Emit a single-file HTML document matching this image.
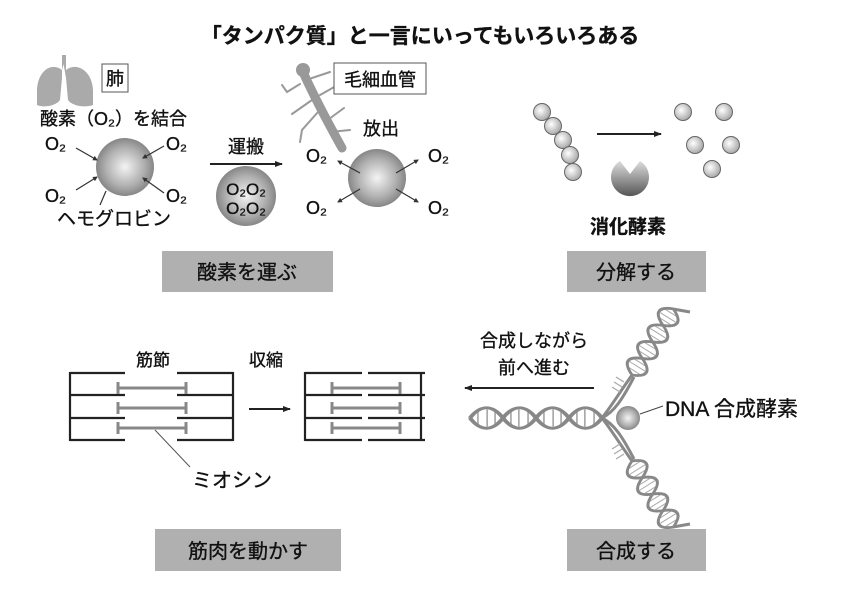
<!DOCTYPE html>
<html><head><meta charset="utf-8"><style>
html,body{margin:0;padding:0;background:#fff}
svg{display:block}
text{font-family:"Liberation Sans","Noto Sans CJK JP",sans-serif;fill:#111;stroke:#111;stroke-width:0.35}
</style></head><body>
<svg width="841" height="599" viewBox="0 0 841 599" xmlns="http://www.w3.org/2000/svg">
<defs>
<radialGradient id="sg" cx="0.5" cy="0.5" r="0.55"><stop offset="0" stop-color="#f4f4f4"/><stop offset="0.6" stop-color="#b0b0b0"/><stop offset="1" stop-color="#7a7a7a"/></radialGradient>
<radialGradient id="bg" cx="0.4" cy="0.4" r="0.6"><stop offset="0" stop-color="#fff"/><stop offset="1" stop-color="#aaa"/></radialGradient>
<linearGradient id="pg" x1="0" y1="0" x2="0" y2="1"><stop offset="0" stop-color="#ddd"/><stop offset="1" stop-color="#555"/></linearGradient>
<marker id="ah" markerWidth="8" markerHeight="8" refX="7" refY="4" orient="auto" markerUnits="userSpaceOnUse"><path d="M0,1 L8,4 L0,7z" fill="#222"/></marker>
<marker id="as" markerWidth="5" markerHeight="5" refX="4" refY="2.5" orient="auto" markerUnits="userSpaceOnUse"><path d="M0,0 L5,2.5 L0,5z" fill="#333"/></marker>
<g id="hx">
<g stroke="#aaa" stroke-width="1.3"><path d="M6,-7V7M13,-10V10M19,-7V7M31,-7V7M37,-10V10M44,-7V7M56,-7V7M63,-10V10M69,-7V7M81,-7V7M87,-10V10M94,-7V7"/></g>
<g fill="none" stroke="#888" stroke-width="3.5">
<path d="M0,0 C8,-16 17,-16 25,0 S42,16 50,0 S67,-16 75,0 S92,16 100,0"/>
<path d="M0,0 C8,16 17,16 25,0 S42,-16 50,0 S67,16 75,0 S92,-16 100,0"/>
</g></g>
</defs>
<text x="420" y="43" font-size="21" font-weight="bold" text-anchor="middle">「タンパク質」と一言にいってもいろいろある</text>

<path d="M62,55 L66,55 L66,70 C76,62 92,70 93,90 L93,105 C85,108 72,106 68,100 L66,78 Z" fill="#aaa"/>
<path d="M66,55 L62,55 L62,78 L60,100 C56,106 43,108 37,105 L37,90 C38,70 52,62 62,70 Z" fill="#aaa"/>
<rect x="102" y="64" width="26" height="28" fill="#fff" stroke="#555"/>
<text x="115" y="85" font-size="18" text-anchor="middle">肺</text>
<text x="40" y="125" font-size="18">酸素（O₂）を結合</text>
<circle cx="125" cy="167" r="29" fill="url(#sg)"/>
<g font-size="18"><text x="45" y="150">O₂</text><text x="166" y="150">O₂</text><text x="45" y="202">O₂</text><text x="166" y="202">O₂</text></g>
<g stroke="#333" stroke-width="1.2">
<line x1="76" y1="148" x2="97" y2="160" marker-end="url(#as)"/><line x1="164" y1="146" x2="143" y2="158" marker-end="url(#as)"/>
<line x1="76" y1="190" x2="97" y2="177" marker-end="url(#as)"/><line x1="164" y1="193" x2="143" y2="178" marker-end="url(#as)"/>
<line x1="106" y1="191" x2="100" y2="205"/></g>
<text x="57" y="225" font-size="19">ヘモグロビン</text>

<text x="246" y="153" font-size="18" text-anchor="middle">運搬</text>
<line x1="210" y1="164" x2="282" y2="164" stroke="#222" stroke-width="2" marker-end="url(#ah)"/>
<circle cx="246" cy="196" r="30" fill="url(#sg)"/>
<text x="246" y="195" font-size="17" text-anchor="middle">O₂O₂</text>
<text x="246" y="214" font-size="17" text-anchor="middle">O₂O₂</text>

<g stroke="#999" fill="none" stroke-linecap="round">
<path d="M303,72 C312,92 322,112 342,148" stroke-width="9"/>
<path d="M300,84 L287,92 L282,85 M312,100 L292,114 M318,112 L302,130 L300,142 M325,122 L344,108 M330,132 L350,130 M320,95 L336,86 M306,80 L330,72" stroke-width="2"/>
</g>
<circle cx="303" cy="70" r="7" fill="#999"/>
<rect x="334" y="63" width="92" height="31" fill="#fff" stroke="#555"/>
<text x="380" y="86" font-size="18" text-anchor="middle">毛細血管</text>
<text x="381" y="135" font-size="18" text-anchor="middle">放出</text>
<circle cx="377" cy="178" r="29" fill="url(#sg)"/>
<g font-size="18"><text x="306" y="162">O₂</text><text x="428" y="162">O₂</text><text x="306" y="214">O₂</text><text x="428" y="214">O₂</text></g>
<g stroke="#333" stroke-width="1.2">
<line x1="360" y1="173" x2="338" y2="161" marker-end="url(#as)"/><line x1="396" y1="173" x2="418" y2="160" marker-end="url(#as)"/>
<line x1="360" y1="189" x2="338" y2="202" marker-end="url(#as)"/><line x1="396" y1="189" x2="418" y2="202" marker-end="url(#as)"/></g>

<rect x="162" y="251" width="171" height="41" fill="#b0b0b0"/>
<text x="247" y="279" font-size="20" text-anchor="middle">酸素を運ぶ</text>

<g fill="url(#bg)" stroke="#666" stroke-width="1">
<circle cx="542" cy="112" r="8.5"/><circle cx="553" cy="126" r="8.5"/><circle cx="563" cy="140" r="8.5"/><circle cx="570" cy="155" r="8.5"/><circle cx="573" cy="172" r="8.5"/>
<circle cx="683" cy="112" r="8.5"/><circle cx="724" cy="112" r="8.5"/><circle cx="695" cy="145" r="8.5"/><circle cx="731" cy="145" r="8.5"/><circle cx="712" cy="169" r="8.5"/>
</g>
<line x1="597" y1="134" x2="661" y2="134" stroke="#222" stroke-width="2" marker-end="url(#ah)"/>
<path d="M620,161 L630,174 L640,161 A19,19 0 1 1 620,161 Z" fill="url(#pg)"/>
<text x="628" y="233" font-size="19" font-weight="bold" text-anchor="middle">消化酵素</text>
<rect x="567" y="251" width="139" height="41" fill="#b0b0b0"/>
<text x="636" y="279" font-size="20" text-anchor="middle">分解する</text>

<text x="153" y="366" font-size="17" text-anchor="middle">筋節</text>
<text x="266" y="366" font-size="17" text-anchor="middle">収縮</text>
<g stroke="#222" stroke-width="2.2">
<line x1="70" y1="372" x2="70" y2="441"/><line x1="233" y1="372" x2="233" y2="441"/>
<path d="M70,373H125M70,395H125M70,418H125M70,440H125M177,373H233M177,395H233M177,418H233M177,440H233"/>
<line x1="305" y1="372" x2="305" y2="441"/><line x1="421" y1="372" x2="421" y2="441"/>
<path d="M305,373H362M305,395H362M305,418H362M305,440H362M368,373H425M368,395H425M368,418H425M368,440H425"/>
</g>
<g stroke="#888" stroke-width="3">
<path d="M118,388H186M118,408H186M118,428H186M118,382V394M186,382V394M118,402V414M186,402V414M118,422V434M186,422V434"/>
<path d="M332,388H400M332,408H400M332,428H400M332,382V394M400,382V394M332,402V414M400,402V414M332,422V434M400,422V434"/>
</g>
<line x1="155" y1="430" x2="190" y2="467" stroke="#555"/>
<line x1="249" y1="409" x2="290" y2="409" stroke="#222" stroke-width="2" marker-end="url(#ah)"/>
<text x="192" y="487" font-size="20">ミオシン</text>
<rect x="155" y="529" width="186" height="42" fill="#b0b0b0"/>
<text x="248" y="558" font-size="20" text-anchor="middle">筋肉を動かす</text>

<text x="534" y="347" font-size="18" text-anchor="middle">合成しながら</text>
<text x="534" y="374" font-size="18" text-anchor="middle">前へ進む</text>
<line x1="594" y1="388" x2="465" y2="388" stroke="#222" stroke-width="2" marker-end="url(#ah)"/>
<use href="#hx" transform="translate(470,418) scale(1.32,0.85)"/>
<use href="#hx" transform="translate(632,375) rotate(-58) scale(0.78,0.9)"/>
<use href="#hx" transform="translate(632,461) rotate(58) scale(0.78,0.9)"/>
<g fill="none" stroke="#888" stroke-width="3">
<path d="M602,418 C612,405 618,395 632,375"/><path d="M602,418 C614,412 622,400 634,377"/>
<path d="M602,418 C612,431 618,441 632,461"/><path d="M602,418 C614,424 622,436 634,459"/>
<path d="M673,309 L690,312 M673,527 L690,524"/>
</g>
<g stroke="#aaa" stroke-width="1.3"><path d="M612,387L620,392M614,382L622,387M616,377L624,382M612,449L620,444M614,454L622,449M616,459L624,454"/></g>
<circle cx="628" cy="418" r="12" fill="url(#sg)"/>
<line x1="640" y1="414" x2="663" y2="406" stroke="#444"/>
<text x="665" y="416" font-size="21">DNA 合成酵素</text>
<rect x="567" y="529" width="139" height="42" fill="#b0b0b0"/>
<text x="636" y="558" font-size="20" text-anchor="middle">合成する</text>
</svg>
</body></html>
